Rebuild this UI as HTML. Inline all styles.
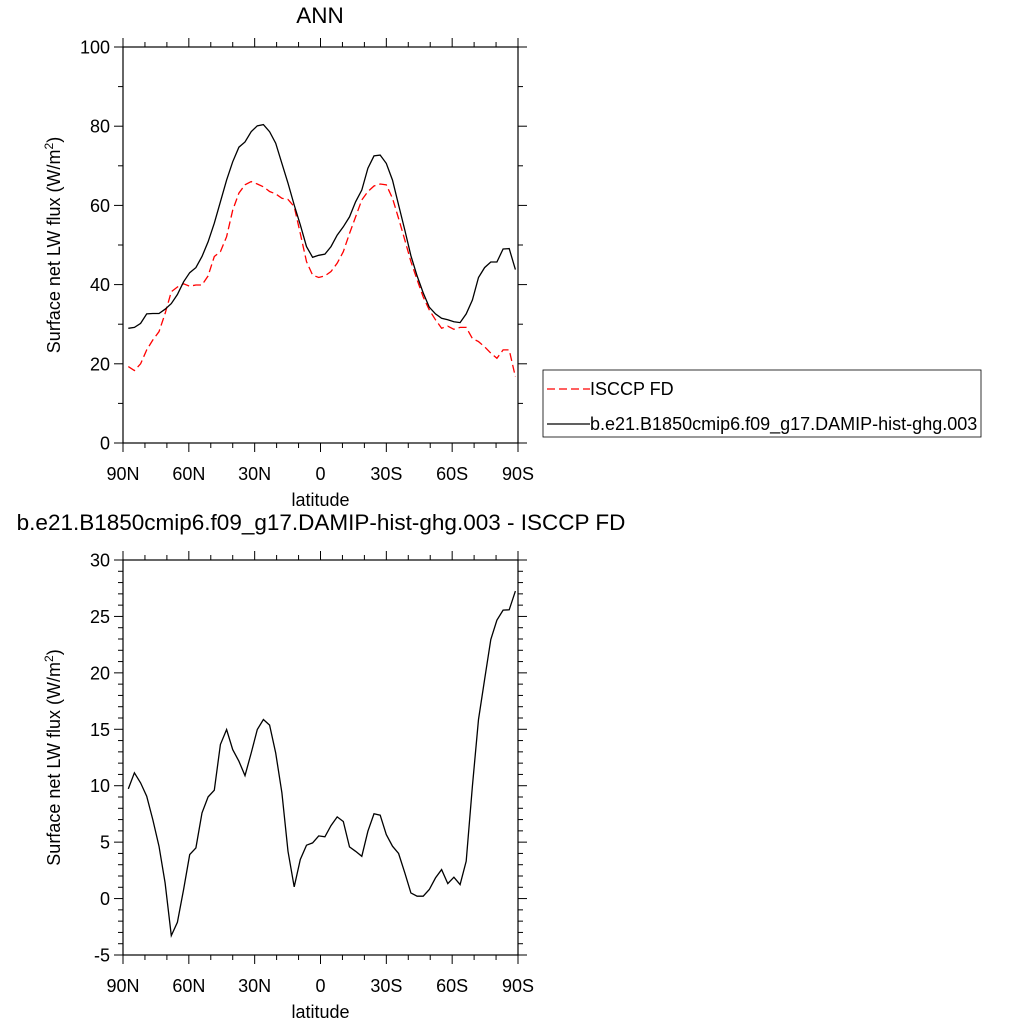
<!DOCTYPE html>
<html><head><meta charset="utf-8"><style>
body{margin:0;background:#fff;}
svg{display:block;font-family:"Liberation Sans",sans-serif;}
</style></head><body>
<svg id="c" width="1024" height="1024" viewBox="0 0 1024 1024">
<text x="320" y="23" font-size="22.5" text-anchor="middle">ANN</text>
<text x="321" y="530" font-size="22.5" text-anchor="middle">b.e21.B1850cmip6.f09_g17.DAMIP-hist-ghg.003 - ISCCP FD</text>
<g>
<rect x="543" y="370" width="438" height="67" fill="#fff" stroke="#000" stroke-width="0.8"/>
<line x1="547" y1="389" x2="590" y2="389" stroke="#f00" stroke-width="1.3" stroke-dasharray="8,4"/>
<text x="590" y="395" font-size="18">ISCCP FD</text>
<line x1="547" y1="424" x2="590" y2="424" stroke="#000" stroke-width="1.3"/>
<text x="590" y="430" font-size="18">b.e21.B1850cmip6.f09_g17.DAMIP-hist-ghg.003</text>
</g>
</svg>
<script>
const lat0 = 87.6, latStep = -2.8;
const modelVals = [28.96,29.2,30.2,32.6,32.7,32.7,33.8,35.2,37.5,40.7,43.0,44.3,47.1,50.8,55.5,60.9,66.4,71.0,74.7,76.0,78.6,80.1,80.4,78.6,75.7,70.6,65.6,60.1,55.1,49.6,46.9,47.4,47.7,49.6,52.5,54.6,57.1,60.9,63.9,69.4,72.5,72.7,70.6,66.4,60.1,53.8,47.3,42.2,37.9,34.3,32.6,31.5,31.1,30.6,30.4,32.6,36.1,41.8,44.3,45.7,45.7,49.0,49.1,43.8];
const obsVals = [19.3,18.3,20.0,23.5,26.0,28.1,32.7,38.2,39.4,40.2,39.6,39.9,39.9,42.2,47.1,48.3,52.1,58.8,63.1,65.2,66.0,65.4,64.7,63.5,62.9,61.8,61.5,59.7,52.9,45.8,42.4,41.8,42.2,43.3,45.4,48.3,52.9,57.1,61.4,63.5,64.9,65.4,65.2,61.8,56.7,51.3,45.8,41.2,36.9,33.6,31.1,29.0,29.5,28.7,29.2,29.2,26.4,25.6,24.3,22.7,21.4,23.5,23.5,16.7];
const diffVals = [9.72,11.14,10.25,9.07,7.0,4.64,1.39,-3.28,-2.10,0.80,3.90,4.49,7.59,9.01,9.60,13.65,14.98,13.2,12.17,10.9,12.9,14.98,15.87,15.37,12.9,9.37,4.19,1.03,3.46,4.73,4.93,5.55,5.47,6.47,7.24,6.83,4.58,4.19,3.75,5.97,7.51,7.39,5.67,4.64,3.99,2.28,0.50,0.21,0.21,0.80,1.83,2.57,1.33,1.89,1.24,3.31,9.96,15.87,19.41,22.96,24.67,25.56,25.59,27.24];
const xTickVals = [90,60,30,0,-30,-60,-90];
const xTickLabels = ["90N","60N","30N","0","30S","60S","90S"];
const topYTicks = [0,20,40,60,80,100];
const botYTicks = [-5,0,5,10,15,20,25,30];

const NS = "http://www.w3.org/2000/svg";
const svg = document.getElementById('c');
function mk(tag, attrs, parent){const e=document.createElementNS(NS,tag);for(const k in attrs)e.setAttribute(k,attrs[k]);(parent||svg).appendChild(e);return e;}

function panel(name, top, bottom, ymin, ymax, yTicks, yMinorStep, series){
  const L=123,R=518;
  const xs = lat => L + (90-lat)/180*(R-L);
  const ys = v => bottom - (v-ymin)/(ymax-ymin)*(bottom-top);
  const g = mk('g',{});
  
  
  const fr = mk('rect',{x:L,y:top,width:R-L,height:bottom-top,fill:'none',stroke:'#000','stroke-width':1.2},g);
  
  
  for(let lat=90;lat>=-90;lat-=10){
    const major = lat%30===0; const len = major?9:5; const x=xs(lat);
    mk('line',{x1:x,y1:bottom,x2:x,y2:bottom+len,stroke:'#000','stroke-width':1},g);
    mk('line',{x1:x,y1:top,x2:x,y2:top-len,stroke:'#000','stroke-width':1},g);
  }
  xTickVals.forEach((v,i)=>{
    const t=mk('text',{x:xs(v),y:bottom+37,'font-size':18,'text-anchor':'middle'},g);
    t.textContent=xTickLabels[i];
    
    
  });
  const xl=mk('text',{x:(L+R)/2,y:bottom+63,'font-size':18,'text-anchor':'middle'},g);
  xl.textContent='latitude';
  
  
  for(let v=ymin; v<=ymax+1e-6; v+=yMinorStep){
    const major = yTicks.some(t=>Math.abs(t-v)<1e-6); const len=major?9:5; const y=ys(v);
    mk('line',{x1:L,y1:y,x2:L-len,y2:y,stroke:'#000','stroke-width':1},g);
    mk('line',{x1:R,y1:y,x2:R+len,y2:y,stroke:'#000','stroke-width':1},g);
  }
  yTicks.forEach(v=>{
    const t=mk('text',{x:L-13,y:ys(v)+6.5,'font-size':18,'text-anchor':'end'},g);
    t.textContent=String(v);
    
    
  });
  const cy=(top+bottom)/2;
  const yl=mk('text',{x:0,y:0,'font-size':18,'text-anchor':'middle',transform:`translate(${L-63},${cy}) rotate(-90)`},g);
  yl.innerHTML='Surface net LW flux (W/m<tspan baseline-shift="super" font-size="12">2</tspan>)';
  
  
  series.forEach(s=>{
    const pts = s.vals.map((v,i)=>xs(lat0+i*latStep).toFixed(1)+','+ys(v).toFixed(1)).join(' ');
    const p=mk('polyline',{points:pts,fill:'none',stroke:s.color,'stroke-width':1.3,'stroke-dasharray':s.dash||'none'},g);
    
    
  });
}
panel('top',47,443,0,100,topYTicks,10,[
  {vals:obsVals,color:'#f00',dash:'8,4',name:'isccp-line'},
  {vals:modelVals,color:'#000',name:'model-line'}
]);
panel('bottom',560,955,-5,30,botYTicks,1,[
  {vals:diffVals,color:'#000',name:'difference-line'}
]);
</script>
</body></html>
